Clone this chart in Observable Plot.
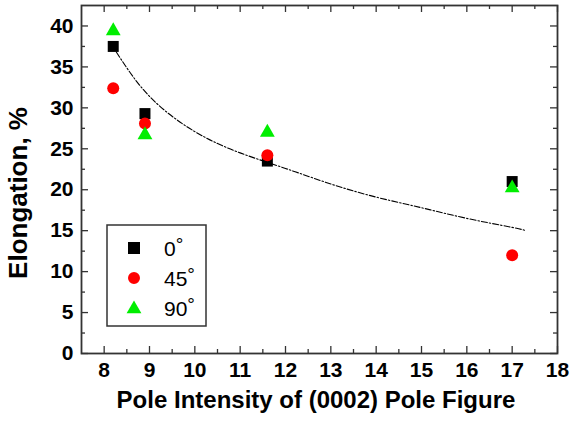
<!DOCTYPE html>
<html><head><meta charset="utf-8">
<script src="https://cdn.jsdelivr.net/npm/d3@7"></script>
<script src="https://cdn.jsdelivr.net/npm/@observablehq/plot@0.6"></script>
<style>body{margin:0;background:#fff;} #chart{width:570px;height:421px;}</style>
</head><body><div id="chart"></div>
<script>
// Data
const poleIntensity = [8.2, 8.9, 11.6, 17];
const elong0  = [37.5, 29.3, 23.5, 21.0];
const elong45 = [32.4, 28.1, 24.2, 12.0];
const elong90 = [39.4, 26.7, 27.0, 20.2];
const fitX = [8.27, 9, 10, 11, 12, 13, 14, 15, 16, 17, 17.3];
const fitY = [36.8, 31.4, 27.1, 24.5, 22.6, 20.7, 19.1, 17.8, 16.5, 15.4, 15.0];
const xMajor = [8, 9, 10, 11, 12, 13, 14, 15, 16, 17, 18];
const xMinor = [8.5, 9.5, 10.5, 11.5, 12.5, 13.5, 14.5, 15.5, 16.5, 17.5];
const yMajor = [0, 5, 10, 15, 20, 25, 30, 35, 40];
const yMinor = [2.5, 7.5, 12.5, 17.5, 22.5, 27.5, 32.5, 37.5];
const seriesNames = ["0", "45", "90"];
const seriesColors = ["#000000", "#ff0000", "#00ee00"];

const rows = (ys) => poleIntensity.map((x, i) => ({x, y: ys[i]}));
const fit = fitX.map((x, i) => ({x, y: fitY[i]}));
const axisColor = "#333";
const FONT = "'Liberation Sans', Arial, Helvetica, sans-serif";

const W = 570, H = 421, mL = 81, mR = 13, mT = 5, mB = 68;
const innerW = W - mL - mR, innerH = H - mT - mB;
const MAJ = 7, MIN = 4;
const tk = {stroke: axisColor, strokeWidth: 1.3};

const plot = Plot.plot({
  width: W, height: H,
  marginLeft: mL, marginRight: mR, marginTop: mT, marginBottom: mB,
  style: {fontFamily: FONT, background: "#fff", overflow: "visible"},
  x: {domain: [7.5, 18]},
  y: {domain: [0, 42.5]},
  marks: [
    // inward ticks on all four sides
    Plot.ruleX(xMajor, {x: d => d, insetTop: innerH - MAJ, ...tk}),
    Plot.ruleX(xMinor, {x: d => d, insetTop: innerH - MIN, ...tk}),
    Plot.ruleX(xMajor, {x: d => d, insetBottom: innerH - MAJ, ...tk}),
    Plot.ruleX(xMinor, {x: d => d, insetBottom: innerH - MIN, ...tk}),
    Plot.ruleY(yMajor, {y: d => d, insetRight: innerW - MAJ, ...tk}),
    Plot.ruleY(yMinor, {y: d => d, insetRight: innerW - MIN, ...tk}),
    Plot.ruleY(yMajor, {y: d => d, insetLeft: innerW - MAJ, ...tk}),
    Plot.ruleY(yMinor, {y: d => d, insetLeft: innerW - MIN, ...tk}),
    Plot.axisX(xMajor, {anchor: "bottom", tickSize: 0, tickPadding: 9, fontSize: 21, fontWeight: "bold", fill: "#000", label: null}),
    Plot.axisY(yMajor, {anchor: "left", tickSize: 0, tickPadding: 8, fontSize: 21, fontWeight: "bold", fill: "#000", label: null}),
    Plot.frame({stroke: axisColor, strokeWidth: 1.8}),
    Plot.line(fit, {x: "x", y: "y", stroke: "#000", strokeWidth: 1.1, strokeDasharray: "6 2 1.5 2", curve: "natural"}),
    Plot.dot(rows(elong0), {x: "x", y: "y", symbol: "square", fill: seriesColors[0], r: 6.2}),
    Plot.dot(rows(elong45), {x: "x", y: "y", symbol: "circle", fill: seriesColors[1], r: 6}),
    Plot.dot(rows(elong90), {x: "x", y: "y", symbol: "triangle", fill: seriesColors[2], r: 5.5})
  ]
});
document.getElementById("chart").appendChild(plot);

const svg = d3.select(plot);
// axis titles
svg.append("text")
  .attr("x", 316).attr("y", 408)
  .attr("text-anchor", "middle")
  .attr("font-family", FONT).attr("font-size", 24).attr("font-weight", "bold").attr("fill", "#000")
  .text("Pole Intensity of (0002) Pole Figure");
svg.append("text")
  .attr("transform", "translate(27,193) rotate(-90)")
  .attr("text-anchor", "middle")
  .attr("font-family", FONT).attr("font-size", 26).attr("font-weight", "bold").attr("fill", "#000")
  .text("Elongation, %");

// legend
const lg = svg.append("g");
lg.append("rect").attr("x", 107).attr("y", 225).attr("width", 99).attr("height", 101)
  .attr("fill", "#fff").attr("stroke", axisColor).attr("stroke-width", 1.5);
const symTypes = [d3.symbolSquare, d3.symbolCircle, d3.symbolTriangle];
const symSizes = [144, 113, 95];
seriesNames.forEach((name, i) => {
  const cy = 248 + i * 30;
  lg.append("path").attr("transform", `translate(134,${cy + (i === 2 ? 1 : 0)})`)
    .attr("d", d3.symbol(symTypes[i], symSizes[i])()).attr("fill", seriesColors[i]);
  const t = lg.append("text").attr("x", 164).attr("y", cy + 7.5)
    .attr("text-anchor", "start")
    .attr("font-family", FONT).attr("font-size", 21).attr("fill", "#000");
  t.append("tspan").text(name);
  t.append("tspan").attr("dy", -5).attr("font-size", 19).text("°");
});
</script>
</body></html>
